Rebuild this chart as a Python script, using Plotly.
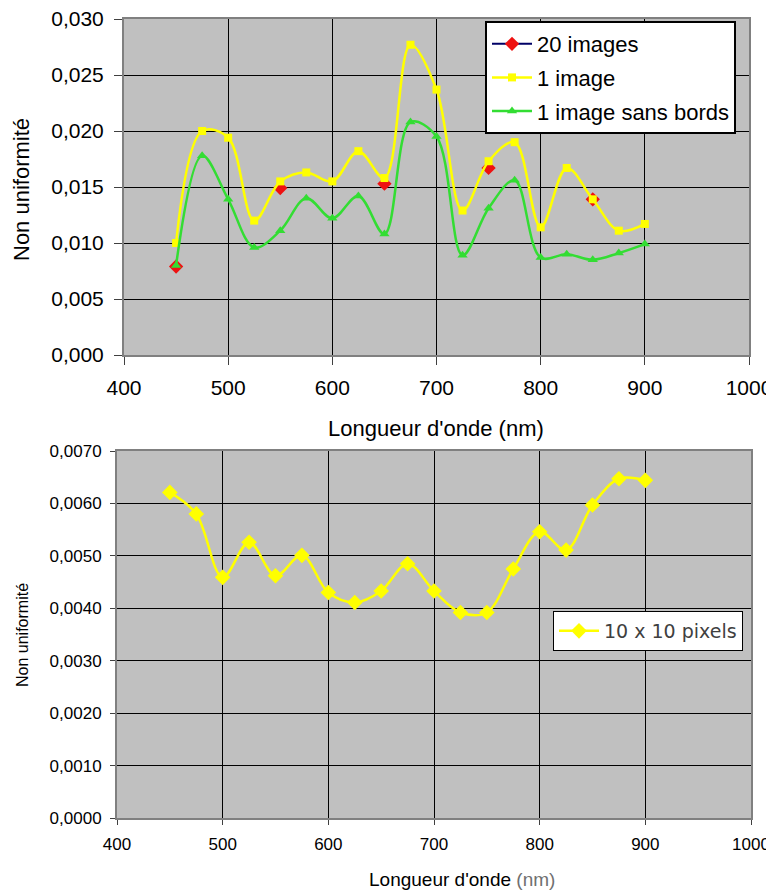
import plotly.graph_objects as go

OFFSET = 8  # page body margin shifts the figure; positions below are window pixels
W, H = 774 - OFFSET, 892 - OFFSET

wavelengths = [450, 475, 500, 525, 550, 575, 600, 625, 650, 675, 700, 725, 750, 775, 800, 825, 850, 875, 900]

images_20 = [0.0079, None, None, None, 0.0149, None, None, None, 0.0153, None, None, None, 0.0167, None, None, None, 0.0139, None, None]
image_1 = [0.0100, 0.0200, 0.0194, 0.0120, 0.0155, 0.0163, 0.0155, 0.0182, 0.0158, 0.0277, 0.0237, 0.0129, 0.0173, 0.0190, 0.0114, 0.0167, 0.0139, 0.0111, 0.0117]
image_1_sans_bords = [0.0080, 0.0178, 0.0139, 0.0096, 0.0111, 0.0140, 0.0122, 0.0142, 0.0108, 0.0208, 0.0195, 0.0089, 0.0131, 0.0156, 0.0087, 0.0090, 0.0085, 0.0091, 0.0099]

pixels_10x10 = [0.00621, 0.00580, 0.00459, 0.00526, 0.00462, 0.00501, 0.00430, 0.00411, 0.00433, 0.00485, 0.00433, 0.00392, 0.00392, 0.00475, 0.00546, 0.00511, 0.00597, 0.00647, 0.00644]

names_top = ["20 images", "1 image", "1 image sans bords"]
name_bottom = "10 x 10 pixels"

YELLOW = "#ffff00"
GREEN = "#33dd33"
SANS = "Liberation Sans, Arial, sans-serif"


def px_x(p):
    return (p - OFFSET) / W


def px_y(p):
    return 1 - (p - OFFSET) / H


fig = go.Figure()

fig.add_trace(go.Scatter(x=wavelengths, y=images_20, name=names_top[0], mode="lines+markers",
                         connectgaps=False, line=dict(color="#000066", width=2),
                         marker=dict(symbol="diamond", size=11, color="#ee1111"),
                         xaxis="x", yaxis="y", legend="legend", legendgroup="a"))
fig.add_trace(go.Scatter(x=wavelengths, y=image_1, name=names_top[1], mode="lines+markers",
                         line=dict(color=YELLOW, width=2.5, shape="spline", smoothing=1),
                         marker=dict(symbol="square", size=8, color=YELLOW),
                         xaxis="x", yaxis="y", legend="legend", legendgroup="b"))
fig.add_trace(go.Scatter(x=wavelengths, y=image_1_sans_bords, name=names_top[2], mode="lines+markers",
                         line=dict(color=GREEN, width=2.5, shape="spline", smoothing=1),
                         marker=dict(symbol="triangle-up", size=9, color=GREEN),
                         xaxis="x", yaxis="y", legend="legend", legendgroup="c"))

fig.add_trace(go.Scatter(x=wavelengths, y=pixels_10x10, name=name_bottom, mode="lines+markers",
                         line=dict(color=YELLOW, width=2.5, shape="spline", smoothing=1),
                         marker=dict(symbol="diamond", size=12, color=YELLOW),
                         xaxis="x2", yaxis="y2", legend="legend2"))

top_font = dict(family=SANS, size=21, color="#000000")
bot_font = dict(family=SANS, size=17, color="#000000")

axis_common = dict(showgrid=True, gridcolor="#000000", gridwidth=1, zeroline=False,
                   showline=True, linecolor="#808080", linewidth=2, mirror=True,
                   ticks="outside", tickcolor="#404040", tickwidth=1, automargin=False,
                   ticklabeloverflow="allow")

fig.update_layout(
    width=W, height=H,
    margin=dict(l=0, r=0, t=0, b=0, autoexpand=False),
    paper_bgcolor="#ffffff",
    plot_bgcolor="#c0c0c0",
    separators=", ",
    showlegend=True,
    xaxis=dict(domain=[px_x(124), px_x(749)], range=[400, 1000], dtick=100, anchor="y",
               tickfont=top_font, ticklen=8, ticklabelstandoff=5, **axis_common),
    yaxis=dict(domain=[px_y(355), px_y(19)], range=[0, 0.030], dtick=0.005, tickformat=".3f",
               anchor="x", tickfont=top_font, ticklen=8, ticklabelstandoff=6, **axis_common),
    xaxis2=dict(domain=[px_x(117), px_x(751)], range=[400, 1000], dtick=100, anchor="y2",
                tickfont=bot_font, ticklen=5, ticklabelstandoff=5, **axis_common),
    yaxis2=dict(domain=[px_y(818), px_y(451)], range=[0, 0.0070], dtick=0.001, tickformat=".4f",
                anchor="x2", tickfont=bot_font, ticklen=5, ticklabelstandoff=5, **axis_common),
    legend=dict(x=px_x(485), y=px_y(21), xanchor="left", yanchor="top",
                bgcolor="#ffffff", bordercolor="#000000", borderwidth=2,
                font=dict(family=SANS, size=22, color="#000000"),
                tracegroupgap=2, itemwidth=40),
    legend2=dict(x=px_x(553), y=px_y(611), xanchor="left", yanchor="top",
                 bgcolor="#ffffff", bordercolor="#000000", borderwidth=1,
                 font=dict(family="DejaVu Sans, sans-serif", size=19, color="#404040"),
                 itemwidth=40),
    annotations=[
        dict(text="Longueur d'onde (nm)", x=px_x(436), y=px_y(428), xref="paper", yref="paper",
             showarrow=False, xanchor="center", yanchor="middle",
             font=dict(family=SANS, size=22, color="#000000")),
        dict(text="Non uniformité", x=px_x(22), y=px_y(190), xref="paper", yref="paper",
             showarrow=False, textangle=-90, xanchor="center", yanchor="middle",
             font=dict(family=SANS, size=22, color="#000000")),
        dict(text="Longueur d'onde <span style='color:#707070'>(nm)</span>", x=px_x(462), y=px_y(879),
             xref="paper", yref="paper", showarrow=False, xanchor="center", yanchor="middle",
             font=dict(family=SANS, size=19, color="#000000")),
        dict(text="Non uniformité", x=px_x(22), y=px_y(635), xref="paper", yref="paper",
             showarrow=False, textangle=-90, xanchor="center", yanchor="middle",
             font=dict(family=SANS, size=16, color="#000000")),
    ],
)

fig.write_html("out.html")
